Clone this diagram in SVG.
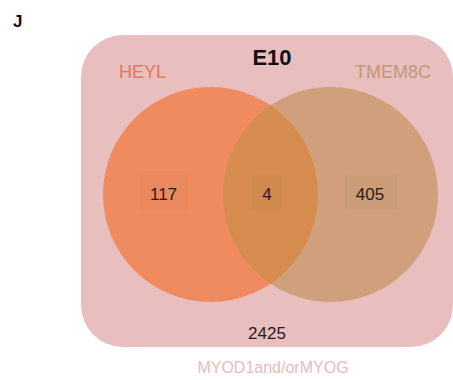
<svg xmlns="http://www.w3.org/2000/svg" width="453" height="380" viewBox="0 0 453 380">
<style>
text{font-family:"Liberation Sans",Arial,sans-serif}
.num{font-size:17px;fill:#2a1a18;text-anchor:middle}
.lbl{font-size:18px}
.box{fill:#000;opacity:0.018}
</style>
<defs>
<clipPath id="clipL"><circle cx="210.5" cy="194.5" r="107.5"/></clipPath>
</defs>
<rect width="453" height="380" fill="#ffffff"/>
<text x="13" y="27" font-size="17" font-weight="bold" fill="#111">J</text>
<g id="universe">
<rect x="81" y="35" width="372" height="312" rx="42" ry="42" fill="#e8bebe"/>
<text x="267" y="339" class="num">2425</text>
</g>
<g id="heyl">
<circle cx="210.5" cy="194.5" r="107.5" fill="#f08b5f"/>
<text x="119" y="78" class="lbl" fill="#e27a5c">HEYL</text>
<rect class="box" x="140" y="175" width="48" height="35"/>
<text x="163.5" y="200" class="num">117</text>
</g>
<g id="tmem8c">
<circle cx="330.5" cy="194.5" r="107.5" fill="#cfa07b"/>
<text x="355" y="78" class="lbl" fill="#c4967a">TMEM8C</text>
<rect class="box" x="345" y="175" width="52" height="35"/>
<text x="370" y="200" class="num">405</text>
</g>
<g id="overlap">
<circle cx="330.5" cy="194.5" r="107.5" fill="#d68c4e" clip-path="url(#clipL)"/>
<rect class="box" x="252" y="175" width="30" height="35"/>
<text x="267" y="200" class="num">4</text>
</g>
<text x="272" y="65" font-size="22" font-weight="bold" fill="#111" text-anchor="middle">E10</text>
<text x="273" y="373" font-size="16" fill="#e6bcbc" text-anchor="middle">MYOD1and/orMYOG</text>
</svg>
